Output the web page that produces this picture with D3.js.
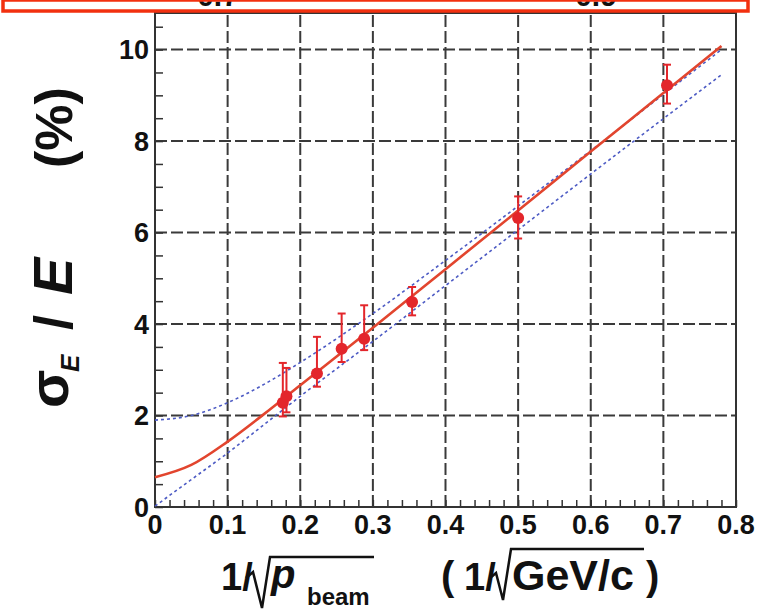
<!DOCTYPE html>
<html><head><meta charset="utf-8">
<script src="https://cdn.jsdelivr.net/npm/d3@7"></script>
<style>body{margin:0;background:#fff}svg{display:block}text{font-family:"Liberation Sans",Arial,Helvetica,sans-serif}</style>
</head><body>
<svg id="c" width="763" height="611"></svg>
<script>
// ---- data ----
const xTicks = [0, 0.1, 0.2, 0.3, 0.4, 0.5, 0.6, 0.7, 0.8];
const xTickLabels = ["0", "0.1", "0.2", "0.3", "0.4", "0.5", "0.6", "0.7", "0.8"];
const yTicks = [0, 2, 4, 6, 8, 10];
const yTickLabels = ["0", "2", "4", "6", "8", "10"];

const pointX = [0.176, 0.181, 0.223, 0.257, 0.288, 0.354, 0.5, 0.705];
const pointY = [2.28, 2.42, 2.92, 3.46, 3.68, 4.48, 6.32, 9.22];
const errUp = [0.87, 0.62, 0.80, 0.77, 0.73, 0.33, 0.47, 0.45];
const errDown = [0.30, 0.35, 0.29, 0.29, 0.25, 0.29, 0.45, 0.40];

const curveX = [0, 0.05, 0.1, 0.15, 0.2, 0.3, 0.4, 0.5, 0.6, 0.7, 0.78];
const fitRed = [0.65, 0.92, 1.43, 2.03, 2.66, 3.92, 5.20, 6.48, 7.77, 9.05, 10.08];
const bandUpper = [1.90, 2.00, 2.28, 2.68, 3.16, 4.23, 5.39, 6.58, 7.79, 9.02, 10.00];
const bandLower = [0.02, 0.60, 1.18, 1.80, 2.42, 3.62, 4.84, 6.06, 7.28, 8.49, 9.45];

// ---- layout ----
const L = 155, R = 736, T = 13, B = 507;
const svg = d3.select("#c");
const x = d3.scaleLinear().domain([0, 0.8]).range([L, R]);
const y = d3.scaleLinear().domain([0, 10.8]).range([B, T]);

// grid
const gridCol = "#3a3a3a";
svg.append("g").selectAll("line").data(xTicks.filter(v => v > 0 && v < 0.8)).join("line")
  .attr("x1", d => x(d)).attr("x2", d => x(d)).attr("y1", B).attr("y2", T)
  .attr("stroke", gridCol).attr("stroke-width", 2).attr("stroke-dasharray", "12,4");
svg.append("g").selectAll("line").data(yTicks.filter(v => v > 0)).join("line")
  .attr("x1", L).attr("x2", R).attr("y1", d => y(d)).attr("y2", d => y(d))
  .attr("stroke", gridCol).attr("stroke-width", 2).attr("stroke-dasharray", "12,4");

// axes with minor ticks
const xAxis = d3.axisTop(x).tickValues(d3.range(0, 0.8001, 0.02)).tickSize(7).tickFormat("");
svg.append("g").attr("transform", `translate(0,${B})`).call(xAxis)
  .call(g => g.select(".domain").remove())
  .selectAll("line").attr("stroke", "#333").attr("stroke-width", 1.5);
const yAxis = d3.axisRight(y).tickValues(d3.range(0, 10.8, 0.5)).tickSize(8).tickFormat("");
svg.append("g").attr("transform", `translate(${L},0)`).call(yAxis)
  .call(g => g.select(".domain").remove())
  .selectAll("line").attr("stroke", "#333").attr("stroke-width", 1.5);

// frame
svg.append("rect").attr("x", L).attr("y", T).attr("width", R - L).attr("height", B - T)
  .attr("fill", "none").attr("stroke", "#333").attr("stroke-width", 2);

// tick labels
svg.append("g").selectAll("text").data(xTicks).join("text")
  .attr("x", d => x(d)).attr("y", 534).attr("text-anchor", "middle")
  .attr("font-size", 27).attr("font-weight", "bold").attr("fill", "#111")
  .text((d, i) => xTickLabels[i]);
svg.append("g").selectAll("text").data(yTicks).join("text")
  .attr("x", 149).attr("y", d => y(d) + 9.5).attr("text-anchor", "end")
  .attr("font-size", 27).attr("font-weight", "bold").attr("fill", "#111")
  .text((d, i) => yTickLabels[i]);

// curves
const line = d3.line().x((d, i) => x(curveX[i])).y(d => y(d)).curve(d3.curveMonotoneX);
const blue = "#4d5bc4";
svg.append("path").attr("d", line(bandUpper)).attr("fill", "none").attr("stroke", blue)
  .attr("stroke-width", 1.6).attr("stroke-dasharray", "3,3");
svg.append("path").attr("d", line(bandLower)).attr("fill", "none").attr("stroke", blue)
  .attr("stroke-width", 1.6).attr("stroke-dasharray", "3,3");
svg.append("path").attr("d", line(fitRed)).attr("fill", "none").attr("stroke", "#e2452e")
  .attr("stroke-width", 2.6);

// data points with error bars
const red = "#e3262b";
const pts = pointX.map((v, i) => ({x: v, y: pointY[i], up: errUp[i], dn: errDown[i]}));
const pg = svg.append("g");
pg.selectAll(".eb").data(pts).join("line")
  .attr("x1", d => x(d.x)).attr("x2", d => x(d.x))
  .attr("y1", d => y(d.y + d.up)).attr("y2", d => y(d.y - d.dn))
  .attr("stroke", red).attr("stroke-width", 2);
pg.selectAll(".cu").data(pts).join("line")
  .attr("x1", d => x(d.x) - 4).attr("x2", d => x(d.x) + 4)
  .attr("y1", d => y(d.y + d.up)).attr("y2", d => y(d.y + d.up))
  .attr("stroke", red).attr("stroke-width", 2);
pg.selectAll(".cd").data(pts).join("line")
  .attr("x1", d => x(d.x) - 4).attr("x2", d => x(d.x) + 4)
  .attr("y1", d => y(d.y - d.dn)).attr("y2", d => y(d.y - d.dn))
  .attr("stroke", red).attr("stroke-width", 2);
pg.selectAll("circle").data(pts).join("circle")
  .attr("cx", d => x(d.x)).attr("cy", d => y(d.y)).attr("r", 6).attr("fill", red);

// x-axis title
const tc = "#111";
svg.append("text").attr("x", 221).attr("y", 590).attr("font-size", 38).attr("font-weight", "bold").attr("fill", tc).text("1/");
svg.append("path").attr("d", "M246,578 L253,572 L262,608 L270,557 L374,557")
  .attr("fill", "none").attr("stroke", tc).attr("stroke-width", 2.5);
svg.append("text").attr("x", 271).attr("y", 588).attr("font-size", 40).attr("font-weight", "bold").attr("font-style", "italic").attr("fill", tc).text("p");
svg.append("text").attr("x", 307).attr("y", 605).attr("font-size", 24).attr("font-weight", "bold").attr("fill", tc).text("beam");
svg.append("text").attr("x", 441).attr("y", 590).attr("font-size", 40).attr("font-weight", "bold").attr("fill", tc).text("(");
svg.append("text").attr("x", 464).attr("y", 590).attr("font-size", 38).attr("font-weight", "bold").attr("fill", tc).text("1/");
svg.append("path").attr("d", "M490,578 L496,573 L503,600 L511,549 L644,549")
  .attr("fill", "none").attr("stroke", tc).attr("stroke-width", 2.5);
svg.append("text").attr("x", 512).attr("y", 590).attr("font-size", 43).attr("font-weight", "bold").attr("fill", tc).text("GeV/c");
svg.append("text").attr("x", 646).attr("y", 590).attr("font-size", 40).attr("font-weight", "bold").attr("fill", tc).text(")");

// y-axis title (rotated)
function rt(xp, yp, size, txt, style) {
  svg.append("text").attr("transform", `translate(${xp},${yp}) rotate(-90)`)
    .attr("font-size", size).attr("font-weight", "bold").attr("font-style", style || "normal")
    .attr("fill", tc).text(txt);
}
rt(68, 408, 56, "σ");
rt(79, 372, 26, "E", "italic");
rt(72, 330, 54, "/");
rt(72, 295, 56, "E", "italic");
rt(72, 168, 52, "(%)");

// red box at top (its text is cut off by the box, as in the reference)
svg.append("clipPath").attr("id", "cb").append("rect").attr("x", 3).attr("y", 0).attr("width", 745).attr("height", 11);
svg.append("rect").attr("x", 3).attr("y", 0).attr("width", 745).attr("height", 11).attr("fill", "#fff");
svg.append("g").attr("clip-path", "url(#cb)").call(g => {
  g.append("text").attr("x", 218).attr("y", 6).attr("text-anchor", "middle").attr("font-size", 30).attr("font-weight", "bold").attr("fill", tc).text("0.7");
  g.append("text").attr("x", 596).attr("y", 6).attr("text-anchor", "middle").attr("font-size", 30).attr("font-weight", "bold").attr("fill", tc).text("0.9");
});
svg.append("rect").attr("x", 3).attr("y", 0).attr("width", 745).attr("height", 11)
  .attr("fill", "none").attr("stroke", "#f2300f").attr("stroke-width", 3.5);
</script>
</body></html>
